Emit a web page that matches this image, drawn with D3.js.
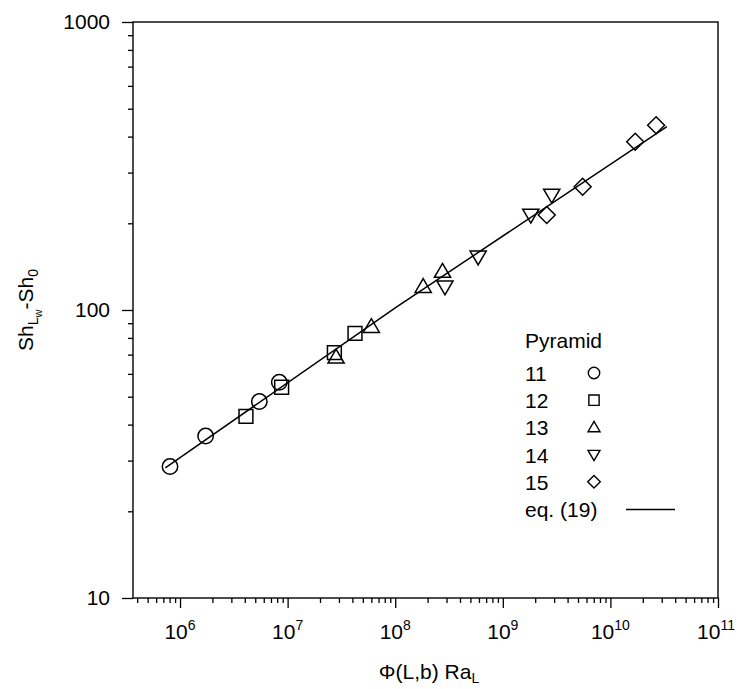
<!DOCTYPE html>
<html>
<head>
<meta charset="utf-8">
<script src="https://cdn.jsdelivr.net/npm/d3@7"></script>
<style>
  body { margin: 0; background: #fff; }
  svg { font-family: "Liberation Sans", Arial, sans-serif; }
</style>
</head>
<body>
<svg id="chart"></svg>
<script>
// values
const pyr11X = [8.07e5, 1.73e6, 5.46e6, 8.37e6];
const pyr11Y = [28.6, 36.5, 48.1, 56.1];
const pyr12X = [4.1e6, 8.8e6, 2.72e7, 4.23e7];
const pyr12Y = [42.7, 53.9, 71.1, 83.0];
const pyr13X = [2.82e7, 6.0e7, 1.82e8, 2.75e8];
const pyr13Y = [68.5, 87.5, 120.5, 136];
const pyr14X = [2.9e8, 5.9e8, 1.82e9, 2.85e9];
const pyr14Y = [120.5, 153, 213.7, 250.8];
const pyr15X = [2.56e9, 5.52e9, 1.7e10, 2.66e10];
const pyr15Y = [213.7, 268, 384, 438];
const eq19X = [7.3e5, 1e8, 3.35e10];
const eq19Y = [28.3, 101.8, 433];

const seriesNames = ["11", "12", "13", "14", "15"];
const seriesShapes = ["circle", "square", "triangleUp", "triangleDown", "diamond"];
const xTickExps = [6, 7, 8, 9, 10, 11];
const yTickValues = [10, 100, 1000];

const width = 738, height = 689;
const margin = {top: 22, right: 20, bottom: 91, left: 133};
const fs = 21;

const svg = d3.select("#chart").attr("width", width).attr("height", height);

const x = d3.scaleLog().domain([Math.pow(10, 5.563), 1e11]).range([margin.left, width - margin.right]);
const y = d3.scaleLog().domain([10, 1000]).range([height - margin.bottom, margin.top]);

// frame
svg.append("rect")
    .attr("x", margin.left).attr("y", margin.top)
    .attr("width", x.range()[1] - x.range()[0])
    .attr("height", y.range()[0] - y.range()[1])
    .attr("fill", "none").attr("stroke", "#000").attr("stroke-width", 1.4);

// x axis ticks
const xMinor = [];
for (let e = 5; e <= 10; e++) for (let m = 2; m <= 9; m++) {
  const v = m * Math.pow(10, e);
  if (v >= x.domain()[0] && v <= x.domain()[1]) xMinor.push(v);
}
const xAxisMinor = d3.axisBottom(x).tickValues(xMinor).tickSize(5).tickFormat("");
const xAxisMajor = d3.axisBottom(x).tickValues(xTickExps.map(e => Math.pow(10, e))).tickSize(10).tickFormat("");
[xAxisMinor, xAxisMajor].forEach(ax => {
  const g = svg.append("g").attr("transform", `translate(0,${y.range()[0]})`).call(ax);
  g.select(".domain").remove();
  g.selectAll("line").attr("stroke", "#000").attr("stroke-width", 1.3);
});

svg.append("g")
  .selectAll("text")
  .data(xTickExps)
  .join("text")
    .attr("x", d => x(Math.pow(10, d)) + (d === 11 ? -2 : 0))
    .attr("y", 639)
    .attr("text-anchor", "middle")
    .attr("font-size", fs)
    .each(function(d) {
      const t = d3.select(this);
      t.append("tspan").text("10");
      t.append("tspan").attr("dy", -9).attr("font-size", 14).text(d);
    });

// y axis ticks
const yMinor = [];
for (let e = 1; e <= 2; e++) for (let m = 2; m <= 9; m++) yMinor.push(m * Math.pow(10, e));
const yAxisMinor = d3.axisLeft(y).tickValues(yMinor).tickSize(5).tickFormat("");
const yAxisMajor = d3.axisLeft(y).tickValues(yTickValues).tickSize(11).tickFormat("");
[yAxisMinor, yAxisMajor].forEach(ax => {
  const g = svg.append("g").attr("transform", `translate(${x.range()[0]},0)`).call(ax);
  g.select(".domain").remove();
  g.selectAll("line").attr("stroke", "#000").attr("stroke-width", 1.3);
});

svg.append("g")
  .selectAll("text")
  .data(yTickValues)
  .join("text")
    .attr("x", 110)
    .attr("y", d => y(d))
    .attr("dy", "0.35em")
    .attr("text-anchor", "end")
    .attr("font-size", fs)
    .text(d => d);

// axis titles
const yTitle = svg.append("text")
    .attr("transform", "translate(33,310) rotate(-90)")
    .attr("text-anchor", "middle")
    .attr("font-size", fs);
yTitle.append("tspan").text("Sh");
yTitle.append("tspan").attr("dy", 5).attr("font-size", 14).text("L");
yTitle.append("tspan").attr("dy", 4).attr("font-size", 11).text("w");
yTitle.append("tspan").attr("dy", -9).text("-Sh");
yTitle.append("tspan").attr("dy", 5).attr("font-size", 14).text("0");

const xTitle = svg.append("text")
    .attr("x", 429).attr("y", 679)
    .attr("text-anchor", "middle")
    .attr("font-size", fs);
xTitle.append("tspan").text("Φ(L,b) Ra");
xTitle.append("tspan").attr("dy", 4).attr("font-size", 14).text("L");

// eq. (19) line
const line = d3.line().x(d => x(d[0])).y(d => y(d[1]));
svg.append("path")
    .datum(d3.zip(eq19X, eq19Y))
    .attr("d", line)
    .attr("fill", "none").attr("stroke", "#000").attr("stroke-width", 1.5);

// marker shapes
function shapePath(shape, s) {
  const p = d3.path();
  if (shape === "circle") { p.moveTo(s, 0); p.arc(0, 0, s, 0, 2 * Math.PI); }
  else if (shape === "square") { p.rect(-s * 0.9, -s * 0.9, s * 1.8, s * 1.8); }
  else if (shape === "triangleUp") { p.moveTo(0, -s * 1.05); p.lineTo(s * 1.05, s * 0.75); p.lineTo(-s * 1.05, s * 0.75); p.closePath(); }
  else if (shape === "triangleDown") { p.moveTo(0, s * 1.05); p.lineTo(s * 1.05, -s * 0.75); p.lineTo(-s * 1.05, -s * 0.75); p.closePath(); }
  else if (shape === "diamond") { p.moveTo(0, -s * 1.1); p.lineTo(s * 1.1, 0); p.lineTo(0, s * 1.1); p.lineTo(-s * 1.1, 0); p.closePath(); }
  return p.toString();
}

const seriesX = [pyr11X, pyr12X, pyr13X, pyr14X, pyr15X];
const seriesY = [pyr11Y, pyr12Y, pyr13Y, pyr14Y, pyr15Y];
const points = [];
seriesX.forEach((xs, i) => xs.forEach((v, j) => points.push({x: v, y: seriesY[i][j], shape: seriesShapes[i]})));

svg.append("g")
  .selectAll("path")
  .data(points)
  .join("path")
    .attr("transform", d => `translate(${x(d.x)},${y(d.y)})`)
    .attr("d", d => shapePath(d.shape, 7.7))
    .attr("fill", "none")
    .attr("stroke", "#000")
    .attr("stroke-width", 1.5);

// legend
const legend = svg.append("g").attr("font-size", fs);
legend.append("text").attr("x", 525).attr("y", 348).text("Pyramid");
const rowY = i => 381 + i * 27.2;
seriesNames.forEach((name, i) => {
  legend.append("text").attr("x", 525).attr("y", rowY(i)).text(name);
  legend.append("path")
      .attr("transform", `translate(594,${rowY(i) - 8})`)
      .attr("d", shapePath(seriesShapes[i], 5.7))
      .attr("fill", "none").attr("stroke", "#000").attr("stroke-width", 1.4);
});
legend.append("text").attr("x", 525).attr("y", rowY(5)).text("eq. (19)");
legend.append("line")
    .attr("x1", 626).attr("x2", 675)
    .attr("y1", Math.round(rowY(5) - 8) + 0.5).attr("y2", Math.round(rowY(5) - 8) + 0.5)
    .attr("stroke", "#000").attr("stroke-width", 1.3);
</script>
</body>
</html>
